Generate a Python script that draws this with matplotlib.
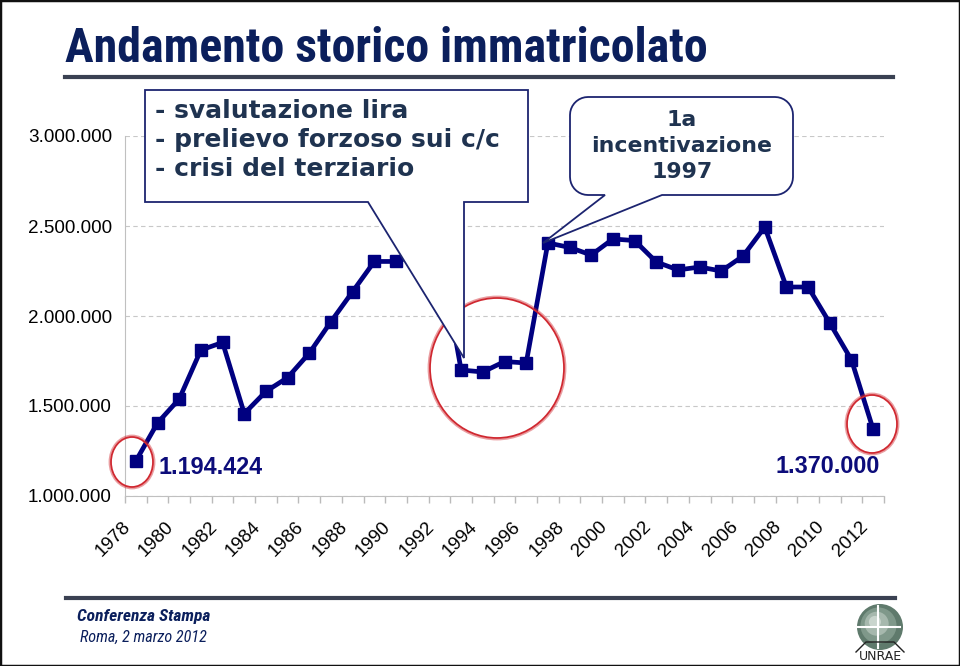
import numpy as np
import matplotlib
matplotlib.use("Agg")
import matplotlib.pyplot as plt
import matplotlib.transforms as mtransforms
from matplotlib.patches import Polygon, Ellipse, Rectangle
from matplotlib.lines import Line2D

# immatricolazioni annue (Italia)
years = list(range(1978, 2013))
registrations = [1194424, 1406000, 1539000, 1811000, 1853000, 1458000, 1581000,
                 1658000, 1794000, 1969000, 2136000, 2303000, 2303000, 2340000,
                 2375000, 1700000, 1689000, 1747000, 1739000, 2406000, 2381000,
                 2339000, 2428000, 2419000, 2300000, 2256000, 2272000, 2250000,
                 2333000, 2494000, 2161000, 2161000, 1961000, 1756000, 1370000]
y_ticks = [1000000, 1500000, 2000000, 2500000, 3000000]
label_years = [1978, 2012]

callout_left = ["- svalutazione lira", "- prelievo forzoso sui c/c", "- crisi del terziario"]
callout_right = ["1a", "incentivazione", "1997"]

NAVY = "#000080"
EDGE = "#1c2470"
TXT = "#1f3350"
RED = "#d02830"
NARROW = ["Roboto Condensed", "Roboto", "DejaVu Sans"]

W, H = 960, 666
fig = plt.figure(figsize=(9.6, 6.66), dpi=100)


def fx(x):
    return x / W


def fy(y):
    return 1 - y / H


def fp(pts):
    return [(fx(a), fy(b)) for a, b in pts]


def fmt(v):
    return "{:,}".format(int(v)).replace(",", ".")


# ---- axes ----
ax = fig.add_axes([fx(125), fy(496), (884 - 125) / W, (496 - 136) / H])
xs = np.arange(len(years))
ax.plot(xs, registrations, color=NAVY, lw=3.4, marker="s", ms=8.5,
        zorder=3, clip_on=False)
ax.set_xlim(-0.5, len(years) - 0.5)
ax.set_ylim(y_ticks[0], y_ticks[-1])

ax.set_yticks(y_ticks)
ax.set_yticklabels([fmt(v) for v in y_ticks], fontsize=13.6, family="Liberation Sans")
ax.tick_params(axis="y", length=0, pad=9.4)
ax.yaxis.grid(True, linestyle=(0, (4, 3)), color="#c8c8c8", lw=0.8)
ax.set_axisbelow(True)

even = [i for i, yr in enumerate(years) if yr % 2 == 0]
ax.set_xticks(even)
ax.set_xticklabels([str(years[i]) for i in even], fontsize=13.5, family="Liberation Sans")
ax.set_xticks(np.arange(-0.5, len(years)), minor=True)
ax.tick_params(axis="x", which="major", length=0, pad=0)
ax.tick_params(axis="x", which="minor", length=5, color="#bbbbbb", width=1)
off = mtransforms.ScaledTranslation(-8 / 100, -28 / 100, fig.dpi_scale_trans)
for lab in ax.get_xticklabels():
    lab.set_rotation(45)
    lab.set_ha("right")
    lab.set_va("center")
    lab.set_rotation_mode("anchor")
    lab.set_transform(lab.get_transform() + off)

for s in ["top", "right"]:
    ax.spines[s].set_visible(False)
ax.spines["left"].set_color("#c0c0c0")
ax.spines["bottom"].set_color("#c0c0c0")

# etichette valori
i0 = years.index(label_years[0])
i1 = years.index(label_years[1])
ax.annotate(fmt(registrations[i0]), xy=(i0, registrations[i0]), xytext=(16.5, -4.5),
            textcoords="offset points", ha="left", va="center", fontsize=16.8,
            fontweight="bold", color="#0c0c7a", family="Liberation Sans")
ax.annotate(fmt(registrations[i1]), xy=(i1, registrations[i1]), xytext=(5, -27),
            textcoords="offset points", ha="right", va="center", fontsize=16.8,
            fontweight="bold", color="#0c0c7a", family="Liberation Sans")

# ---- cerchi rossi ----
for cx, cy, rx, ry in [(132, 462, 21, 25), (497, 368, 67, 70), (872, 424, 25, 29)]:
    for d, a in [(0, 1.0), (1.5, 0.45)]:
        e = Ellipse((fx(cx), fy(cy)), 2 * (rx + d) / W, 2 * (ry + d) / H,
                    transform=fig.transFigure, fill=False, edgecolor=RED,
                    lw=1.3, alpha=a, zorder=4)
        fig.add_artist(e)

# ---- callout rettangolare ----
box1 = [(145, 90), (528, 90), (528, 202), (464, 202), (464, 358), (368, 202), (145, 202)]
fig.add_artist(Polygon(fp(box1), closed=True, transform=fig.transFigure,
                       facecolor="white", edgecolor=EDGE, lw=1.3, zorder=5))
for k, line in enumerate(callout_left):
    fig.text(fx(155), fy(111 + 29 * k), line, ha="left", va="center",
             fontsize=18, fontweight="bold", color=TXT, family="DejaVu Sans", zorder=6)

# ---- callout arrotondato ----
x0, y0, x1, y1, r = 570, 97, 793, 195, 18


def arc(cx, cy, a0, a1):
    t = np.radians(np.linspace(a0, a1, 10))
    return [(cx + r * np.cos(a), cy + r * np.sin(a)) for a in t]


pts = []
pts += arc(x1 - r, y0 + r, -90, 0)
pts += arc(x1 - r, y1 - r, 0, 90)
pts += [(662, y1), (543, 243), (605, y1)]
pts += arc(x0 + r, y1 - r, 90, 180)
pts += arc(x0 + r, y0 + r, 180, 270)
fig.add_artist(Polygon(fp(pts), closed=True, transform=fig.transFigure,
                       facecolor="white", edgecolor=EDGE, lw=1.3, zorder=5))
for k, line in enumerate(callout_right):
    fig.text(fx(682), fy(120 + 26 * k), line, ha="center", va="center",
             fontsize=15.8, fontweight="bold", color=TXT, family="DejaVu Sans", zorder=6)

# ---- titolo e cornice ----
fig.text(fx(65), fy(49), "Andamento storico immatricolato", ha="left", va="center",
         fontsize=34.5, fontweight="bold", color="#0b1f5c", family=NARROW)
fig.add_artist(Line2D([fx(65), fx(893)], [fy(77), fy(77)], color="#3a4152", lw=3,
                      transform=fig.transFigure))
fig.add_artist(Line2D([fx(66), fx(895)], [fy(598), fy(598)], color="#3a4152", lw=3,
                      transform=fig.transFigure))
fig.text(fx(77), fy(617), "Conferenza Stampa", ha="left", va="center", fontsize=12.6,
         fontweight="bold", style="italic", color="#0b1f5c", family=NARROW)
fig.text(fx(80), fy(637), "Roma, 2 marzo 2012", ha="left", va="center", fontsize=11.6,
         style="italic", color="#0b1f5c", family=NARROW)

# logo
for rr, c in [(23, "#5f7a6c"), (18, "#7f988a"), (12, "#a6b8ad"), (6, "#c9d5cd")]:
    fig.add_artist(Ellipse((fx(880 - (23 - rr) * 0.3), fy(627 - (23 - rr) * 0.3)),
                           2 * rr / W, 2 * rr / H, transform=fig.transFigure,
                           facecolor=c, edgecolor="none", zorder=2))
fig.add_artist(Line2D([fx(878), fx(878)], [fy(606), fy(648)], color="white", lw=1.5,
                      transform=fig.transFigure, zorder=3))
fig.add_artist(Line2D([fx(858), fx(900)], [fy(627), fy(627)], color="white", lw=1.5,
                      transform=fig.transFigure, zorder=3))
fig.add_artist(Line2D([fx(856), fx(866), fx(894), fx(904)],
                      [fy(652), fy(642), fy(642), fy(652)], color="#222222", lw=1,
                      transform=fig.transFigure, zorder=3))
fig.text(fx(880), fy(656), "UNRAE", ha="center", va="center", fontsize=9,
         color="#222222", family="DejaVu Sans")

fig.add_artist(Rectangle((0, 0), 1, 1, transform=fig.transFigure, fill=False,
                         edgecolor="#111111", lw=2.5, zorder=10))

fig.savefig("out.png", dpi=100, facecolor="white")
